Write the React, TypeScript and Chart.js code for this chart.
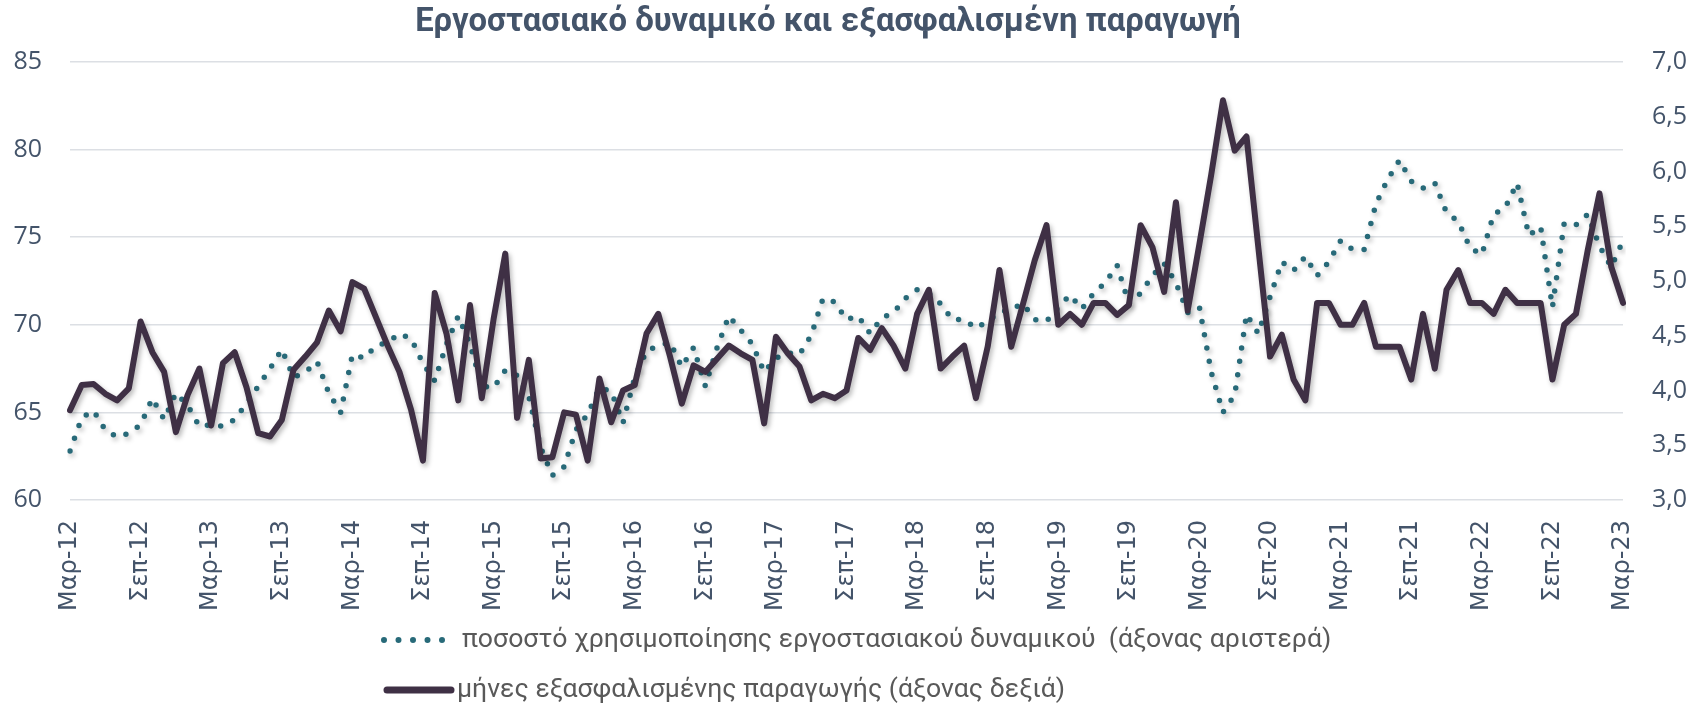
import React, { useEffect, useRef } from 'react';
import { Chart, registerables } from 'chart.js';

Chart.register(...registerables);

// ---------- texts ----------
const TITLE = 'Εργοστασιακό δυναμικό και εξασφαλισμένη παραγωγή';
const LEGEND_UTIL = 'ποσοστό χρησιμοποίησης εργοστασιακού δυναμικού  (άξονας αριστερά)';
const LEGEND_MONTHS = 'μήνες εξασφαλισμένης παραγωγής (άξονας δεξιά)';

// ---------- categories (monthly, Mar-12 .. Mar-23) ----------
const MONTH_NAMES = ['Ιαν', 'Φεβ', 'Μαρ', 'Απρ', 'Μαϊ', 'Ιουν', 'Ιουλ', 'Αυγ', 'Σεπ', 'Οκτ', 'Νοε', 'Δεκ'];
const FIRST_MONTH = 2; // March
const FIRST_YEAR = 12;
const N_MONTHS = 133;
const CATEGORIES: string[] = Array.from({ length: N_MONTHS }, (_, i) => {
  const k = FIRST_MONTH + i;
  return `${MONTH_NAMES[k % 12]}-${FIRST_YEAR + Math.floor(k / 12)}`;
});
const LABEL_EVERY = 6; // Μαρ / Σεπ

// ---------- axis ticks ----------
const LEFT_AXIS = [60, 85, 5]; // min, max, step
const RIGHT_AXIS = [3, 7, 0.5];

// ---------- series: capacity utilisation (%), left axis ----------
const UTILISATION: number[] = [
  62.8, 64.7, 65.1, 64.0, 63.6, 63.8, 64.3, 65.8, 64.6, 66.1, 65.4, 64.2,
  64.3, 64.2, 64.6, 65.5, 66.5, 67.5, 68.6, 67.0, 67.3, 67.9, 66.1, 65.0,
  68.3, 68.1, 68.8, 69.0, 69.5, 69.2, 67.8, 66.8, 68.9, 70.5, 68.9, 66.5,
  66.4, 67.4, 67.1, 65.9, 63.0, 61.4, 61.9, 64.0, 64.9, 66.4, 66.2, 64.4,
  67.0, 68.5, 68.8, 69.0, 67.6, 68.7, 66.5, 68.7, 70.5, 69.7, 68.9, 67.3,
  68.1, 68.4, 68.3, 69.4, 71.5, 71.3, 70.3, 70.5, 69.5, 70.4, 70.7, 71.5,
  72.0, 71.8, 71.2, 70.3, 70.3, 69.8, 70.2, 70.7, 70.9, 71.2, 70.3, 70.2,
  71.0, 71.7, 70.9, 71.8, 72.4, 73.4, 71.2, 71.8, 72.8, 73.5, 72.4, 70.7,
  71.0, 67.3, 65.0, 66.0, 70.6, 69.5, 71.6, 73.6, 73.1, 73.9, 72.8, 73.6,
  74.8, 74.3, 74.3, 76.9, 78.3, 79.4, 78.2, 77.8, 78.1, 76.4, 75.9, 74.4,
  74.0, 76.3, 76.7, 78.1, 75.1, 75.6, 71.0, 75.8, 75.7, 76.3, 74.5, 73.3,
  74.8,
];

// ---------- series: months of secured production, right axis ----------
const SECURED_MONTHS: number[] = [
  3.82, 4.05, 4.06, 3.97, 3.91, 4.02, 4.63, 4.35, 4.17, 3.62, 3.96, 4.20,
  3.68, 4.25, 4.35, 4.03, 3.61, 3.58, 3.73, 4.19, 4.31, 4.44, 4.73, 4.54,
  4.99, 4.93, 4.67, 4.41, 4.17, 3.82, 3.36, 4.89, 4.52, 3.91, 4.78, 3.93,
  4.65, 5.25, 3.75, 4.28, 3.38, 3.39, 3.80, 3.78, 3.36, 4.11, 3.71, 4.00,
  4.05, 4.52, 4.70, 4.31, 3.88, 4.23, 4.17, 4.29, 4.41, 4.34, 4.28, 3.70,
  4.49, 4.34, 4.22, 3.91, 3.97, 3.93, 4.00, 4.48, 4.37, 4.57, 4.41, 4.20,
  4.70, 4.92, 4.20, 4.31, 4.41, 3.93, 4.40, 5.10, 4.40, 4.79, 5.19, 5.51,
  4.60, 4.70, 4.60, 4.80, 4.80, 4.69, 4.78, 5.51, 5.31, 4.90, 5.72, 4.73,
  5.34, 5.97, 6.65, 6.19, 6.32, 5.31, 4.31, 4.51, 4.10, 3.91, 4.80, 4.80,
  4.60, 4.60, 4.80, 4.40, 4.40, 4.40, 4.10, 4.70, 4.20, 4.92, 5.10, 4.80,
  4.80, 4.70, 4.92, 4.80, 4.80, 4.80, 4.10, 4.60, 4.70, 5.28, 5.80, 5.13,
  4.80,
];

// ---------- styles ----------
const TEAL = '#286A79';
const PLUM = '#3F3045';
const TEXT_BLUE = '#44546A';
const LEGEND_GREY = '#595959';
const GRID = '#DCDFE4';

function fitFontSize(ctx: CanvasRenderingContext2D, text: string, weight: string, family: string, target: number) {
  ctx.font = `${weight} 100px ${family}`;
  const w = ctx.measureText(text).width;
  return (100 * target) / w;
}

const shadowPlugin = {
  id: 'lineShadow',
  beforeDatasetDraw(chart: any) {
    const ctx = chart.ctx;
    ctx.save();
    ctx.shadowColor = 'rgba(0,0,0,0.28)';
    ctx.shadowBlur = 5;
    ctx.shadowOffsetX = 2;
    ctx.shadowOffsetY = 3;
  },
  afterDatasetDraw(chart: any) {
    chart.ctx.restore();
  },
};

const overlayPlugin = {
  id: 'titleLegend',
  afterDraw(chart: any) {
    const ctx: CanvasRenderingContext2D = chart.ctx;
    ctx.save();
    // title
    const tSize = fitFontSize(ctx, TITLE, 'bold', 'Roboto', 826);
    ctx.font = `bold ${tSize}px Roboto`;
    ctx.fillStyle = TEXT_BLUE;
    ctx.textAlign = 'center';
    ctx.textBaseline = 'middle';
    ctx.fillText(TITLE, 828, 23);

    // legend
    const lSize = fitFontSize(ctx, LEGEND_UTIL, 'normal', 'Roboto', 870);
    const ds = chart.data.datasets;
    const items = [
      { ds: ds[0], y: 640, x0: 384, x1: 442.1, tx: 462, dash: [0, 14.5], lw: 6 },
      { ds: ds[1], y: 690, x0: 387, x1: 451, tx: 457, dash: [], lw: 7 },
    ];
    for (const it of items) {
      ctx.save();
      ctx.strokeStyle = it.ds.borderColor;
      ctx.lineWidth = it.lw;
      ctx.lineCap = 'round';
      ctx.setLineDash(it.dash);
      ctx.beginPath();
      ctx.moveTo(it.x0, it.y);
      ctx.lineTo(it.x1, it.y);
      ctx.stroke();
      ctx.restore();
      ctx.font = `normal ${lSize}px Roboto`;
      ctx.fillStyle = LEGEND_GREY;
      ctx.textAlign = 'left';
      ctx.textBaseline = 'middle';
      ctx.fillText(it.ds.label, it.tx, it.y);
    }
    ctx.restore();
  },
};

export default function App() {
  const canvasRef = useRef<HTMLCanvasElement | null>(null);

  useEffect(() => {
    if (!canvasRef.current) return;
    const chart = new Chart(canvasRef.current, {
      type: 'line',
      data: {
        labels: CATEGORIES,
        datasets: [
          {
            label: LEGEND_UTIL,
            data: UTILISATION,
            yAxisID: 'yLeft',
            borderColor: TEAL,
            borderWidth: 5.5,
            borderDash: [0, 13.5],
            borderCapStyle: 'round',
            borderJoinStyle: 'round',
            pointRadius: 0,
            pointHoverRadius: 0,
            fill: false,
            tension: 0,
            order: 1,
          },
          {
            label: LEGEND_MONTHS,
            data: SECURED_MONTHS,
            yAxisID: 'yRight',
            borderColor: PLUM,
            borderWidth: 6,
            borderCapStyle: 'round',
            borderJoinStyle: 'round',
            pointRadius: 0,
            pointHoverRadius: 0,
            fill: false,
            tension: 0,
            order: 0,
          },
        ],
      },
      options: {
        responsive: true,
        maintainAspectRatio: false,
        animation: false,
        events: [],
        layout: { padding: { top: 62, bottom: 95, left: 0, right: 0 } },
        plugins: {
          legend: { display: false },
          title: { display: false },
          tooltip: { enabled: false },
        },
        scales: {
          x: {
            type: 'category',
            offset: false,
            grid: { display: false, drawTicks: false },
            border: { display: false },
            ticks: {
              autoSkip: false,
              maxRotation: 90,
              minRotation: 90,
              padding: 20,
              color: TEXT_BLUE,
              font: { family: 'DejaVu Sans', size: 24 },
              callback: (_v: any, i: number) => (i % LABEL_EVERY === 0 ? CATEGORIES[i] : ''),
            },
            afterFit: (s: any) => {
              s.height = 112;
            },
          },
          yLeft: {
            position: 'left',
            min: LEFT_AXIS[0],
            max: LEFT_AXIS[1],
            ticks: {
              stepSize: LEFT_AXIS[2],
              padding: 28,
              color: TEXT_BLUE,
              font: { family: 'Open Sans', size: 25 },
            },
            grid: { color: GRID, lineWidth: 1.5, drawTicks: false },
            border: { display: false },
            afterFit: (s: any) => {
              s.width = 70;
            },
          },
          yRight: {
            position: 'right',
            min: RIGHT_AXIS[0],
            max: RIGHT_AXIS[1],
            ticks: {
              stepSize: RIGHT_AXIS[2],
              padding: 29,
              color: TEXT_BLUE,
              font: { family: 'Open Sans', size: 25 },
              callback: (v: any) => Number(v).toFixed(1).replace('.', ','),
            },
            grid: { display: false, drawTicks: false },
            border: { display: false },
            afterFit: (s: any) => {
              s.width = 72;
            },
          },
        },
      },
      plugins: [shadowPlugin, overlayPlugin],
    });
    return () => chart.destroy();
  }, []);

  return (
    <div
      style={{
        position: 'absolute',
        left: 0,
        top: 0,
        width: '1695px',
        height: '707px',
        background: '#ffffff',
      }}
    >
      <canvas ref={canvasRef} />
    </div>
  );
}
